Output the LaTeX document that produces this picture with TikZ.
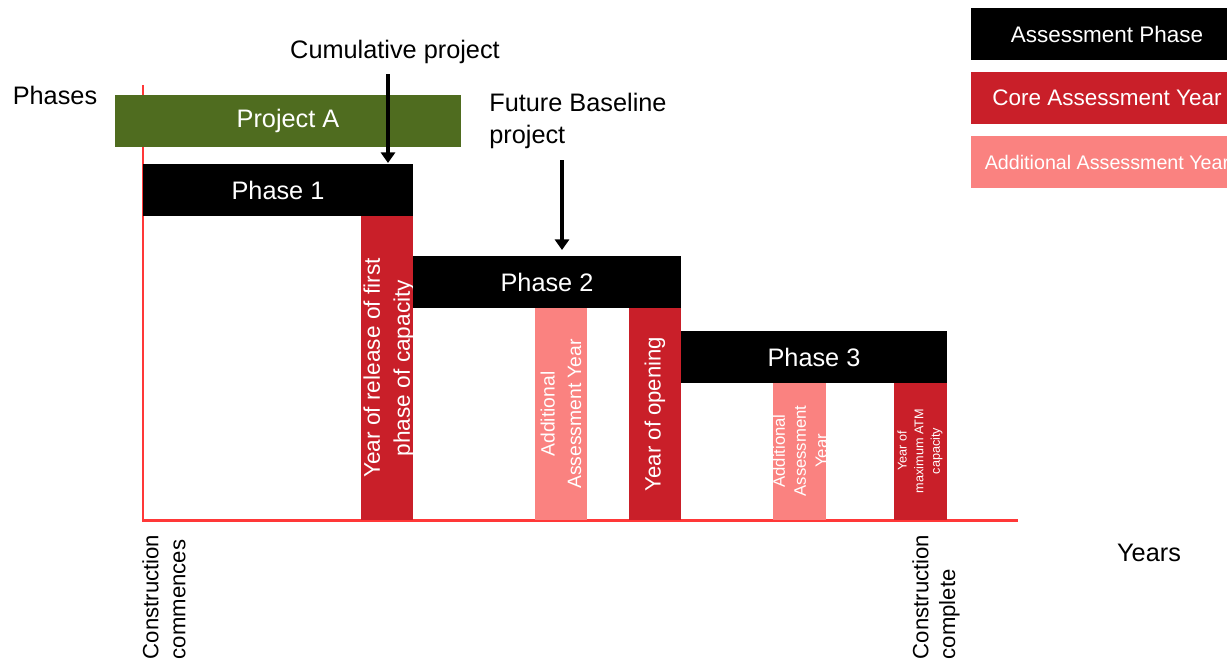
\documentclass[tikz,border=0pt]{standalone}
\usepackage{fontspec}
\setmainfont{Liberation Sans}
\usetikzlibrary{arrows.meta}
\definecolor{projgreen}{RGB}{79,108,31}
\definecolor{corered}{RGB}{201,31,41}
\definecolor{addpink}{RGB}{250,130,128}
\definecolor{axisred}{RGB}{255,56,56}

\begin{document}
\begin{tikzpicture}[x=0.02cm, y=0.02cm]
    \tikzstyle{every node}+=[inner sep=0pt]
    \tikzstyle{lbl}=[font=\fontsize{14.4}{18}\selectfont]
    \tikzstyle{boxlbl}=[text=white, font=\fontsize{14.4}{18}\selectfont]
    \tikzstyle{barlbl}=[text=white, rotate=90, align=center]
    \tikzstyle{pointer}=[-{Triangle[width=8pt,length=6pt]}, line width=2pt]
    \useasboundingbox (0,0) rectangle (1227,-663);
    \clip (0,0) rectangle (1227,-663);
    \draw [axisred, line width=1.7pt] (143,-85) -- (143,-520) -- (1018,-520);
    \draw (55,-95) node [lbl] (phases) {Phases};
    \draw (1149,-553) node [lbl] (years) {Years};
    \fill [projgreen] (115,-95) rectangle (461,-147);
    \draw (288,-121) node [boxlbl] (projecta) {Project A};
    \fill [black] (143,-164) rectangle (413,-216);
    \draw (278,-190) node [boxlbl] (phaseone) {Phase 1};
    \fill [corered] (361,-216) rectangle (413,-520);
    \draw (389,-368) node [barlbl, font=\fontsize{12.9}{17}\selectfont] (release) {Year of release of first\\phase of capacity};
    \fill [black] (413,-256) rectangle (681,-308);
    \draw (547,-282) node [boxlbl] (phasetwo) {Phase 2};
    \fill [addpink] (535,-308) rectangle (587,-520);
    \draw (561,-414) node [barlbl, font=\fontsize{11}{15}\selectfont] (addtwo) {Additional\\Assessment Year};
    \fill [corered] (629,-308) rectangle (681,-520);
    \draw (655,-414) node [barlbl, font=\fontsize{12.6}{17}\selectfont] (opening) {Year of opening};
    \fill [black] (681,-331) rectangle (947,-383);
    \draw (814,-357) node [boxlbl] (phasethree) {Phase 3};
    \fill [addpink] (773,-383) rectangle (826,-520);
    \draw (800,-451) node [barlbl, font=\fontsize{9.5}{12}\selectfont] (addthree) {Additional\\Assessment\\Year};
    \fill [corered] (894,-383) rectangle (947,-520);
    \draw (920,-451) node [barlbl, font=\fontsize{7.2}{9.5}\selectfont] (maxcap) {Year of\\maximum ATM\\capacity};
    \draw (164,-597) node [rotate=90, align=left, font=\fontsize{12.6}{15.3}\selectfont] (commences) {Construction\\commences};
    \draw (936,-597) node [rotate=90, align=left, font=\fontsize{12.6}{15.3}\selectfont] (complete) {Construction\\complete};
    \draw (395,-52) node [lbl] (cumul) {Cumulative project};
    \draw (489,-121) node [lbl, anchor=west, align=left] (future) {Future Baseline\\project};
    \coordinate (cumulfrom) at (388,-74);
    \coordinate (cumulto) at (388,-163);
    \draw [pointer] (cumulfrom) -- (cumulto);
    \coordinate (futurefrom) at (562,-160);
    \coordinate (futureto) at (562,-250);
    \draw [pointer] (futurefrom) -- (futureto);
    \fill [black] (971,-8) rectangle (1245,-60);
    \draw (1107,-34) node [boxlbl, font=\fontsize{12.8}{16}\selectfont] (legphase) {Assessment Phase};
    \fill [corered] (971,-72) rectangle (1245,-124);
    \draw (1107,-98) node [boxlbl, font=\fontsize{12.8}{16}\selectfont] (legcore) {Core Assessment Year};
    \fill [addpink] (971,-136) rectangle (1245,-188);
    \draw (1107,-162) node [boxlbl, font=\fontsize{11.2}{14}\selectfont] (legadd) {Additional Assessment Year};
\end{tikzpicture}
\end{document}
